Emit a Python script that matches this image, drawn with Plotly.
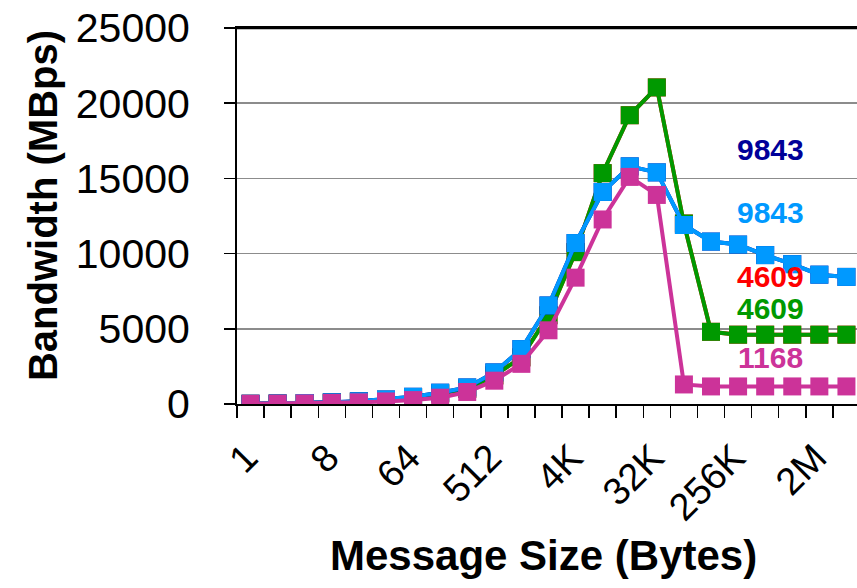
import plotly.graph_objects as go

sizes = ['1', '2', '4', '8', '16', '32', '64', '128', '256', '512', '1K', '2K', '4K',
         '8K', '16K', '32K', '64K', '128K', '256K', '512K', '1M', '2M', '4M']

blue_vals = [15, 30, 60, 110, 180, 300, 480, 750, 1100, 2100, 3650, 6550, 10700,
             14100, 15800, 15400, 11900, 10800, 10600, 9900, 9300, 8600, 8450]
green_vals = [12, 25, 50, 95, 160, 270, 450, 700, 1000, 1900, 3100, 5900, 10100,
              15350, 19200, 21050, 12000, 4800, 4609, 4609, 4609, 4609, 4609]
magenta_vals = [10, 20, 40, 70, 110, 170, 260, 420, 800, 1550, 2670, 4900, 8400,
                12270, 15100, 13900, 1300, 1168, 1168, 1168, 1168, 1168, 1168]

label_texts = ['9843', '9843', '4609', '4609', '1168']
label_colors = ['#000099', '#0099FF', '#FF0000', '#009900', '#CC3399']

tick_text = [s if i % 3 == 0 else '' for i, s in enumerate(sizes)]

FONT = 'Arial, Liberation Sans, sans-serif'

series = [
    ('red', green_vals, '#FF0000'),
    ('green', green_vals, '#009900'),
    ('darkblue', blue_vals, '#000099'),
    ('lightblue', blue_vals, '#0099FF'),
    ('magenta', magenta_vals, '#CC3399'),
]

fig = go.Figure()
for name, vals, col in series:
    fig.add_trace(go.Scatter(
        x=sizes, y=vals, mode='lines+markers', name=name,
        line=dict(color=col, width=4),
        marker=dict(symbol='square', size=18, color=col, line=dict(width=0)),
        showlegend=False, hoverinfo='skip',
    ))

# value labels
label_y = [0.676, 0.508, 0.338, 0.255, 0.125]
for t, c, yy in zip(label_texts, label_colors, label_y):
    fig.add_annotation(xref='paper', yref='paper', x=0.86, y=yy, text='<b>%s</b>' % t,
                       showarrow=False, xanchor='center', yanchor='middle',
                       font=dict(family=FONT, size=30, color=c))

# axis titles
fig.add_annotation(xref='paper', yref='paper', x=-0.313, y=0.529,
                   text='<b>Bandwidth (MBps)</b>', textangle=-90, showarrow=False,
                   xanchor='center', yanchor='middle',
                   font=dict(family=FONT, size=40, color='black'))
fig.add_annotation(xref='paper', yref='paper', x=0.494, y=-0.404,
                   text='<b>Message Size (Bytes)</b>', showarrow=False,
                   xanchor='center', yanchor='middle',
                   font=dict(family=FONT, size=42, color='black'))

# top border of the plot area
fig.add_shape(type='line', xref='paper', yref='paper', x0=0, x1=1, y0=1, y1=1,
              line=dict(color='black', width=2.5), layer='above')

fig.update_layout(
    width=857, height=588,
    margin=dict(l=237, r=0, t=28, b=184),
    paper_bgcolor='white', plot_bgcolor='white',
    font=dict(family=FONT, color='black'),
    hovermode=False,
    xaxis=dict(
        type='category', categoryorder='array', categoryarray=sizes,
        range=[-0.5, 22.39], automargin=False,
        tickmode='array', tickvals=sizes, ticktext=tick_text,
        tickson='boundaries', ticks='outside', ticklen=12, tickwidth=1.5, tickcolor='black',
        tickangle=-45, tickfont=dict(family=FONT, size=38, color='black'),
        ticklabelstandoff=14, ticklabelshift=-4, ticklabeloverflow='allow',
        showline=True, linecolor='black', linewidth=2, mirror=True,
        showgrid=False, zeroline=False,
    ),
    yaxis=dict(
        range=[0, 25000], tickmode='linear', tick0=0, dtick=5000, tickformat='d',
        automargin=False, ticklabeloverflow='allow',
        ticks='outside', ticklen=11, tickwidth=1.5, tickcolor='black',
        tickfont=dict(family=FONT, size=41, color='black'),
        ticklabelstandoff=26,
        showline=True, linecolor='black', linewidth=2,
        showgrid=True, gridcolor='#8c8c8c', gridwidth=1.5, zeroline=False,
    ),
)

fig.write_html('out.html', config={'displayModeBar': False, 'staticPlot': True},
               post_script="document.body.style.margin='0';document.body.style.overflow='hidden';")
